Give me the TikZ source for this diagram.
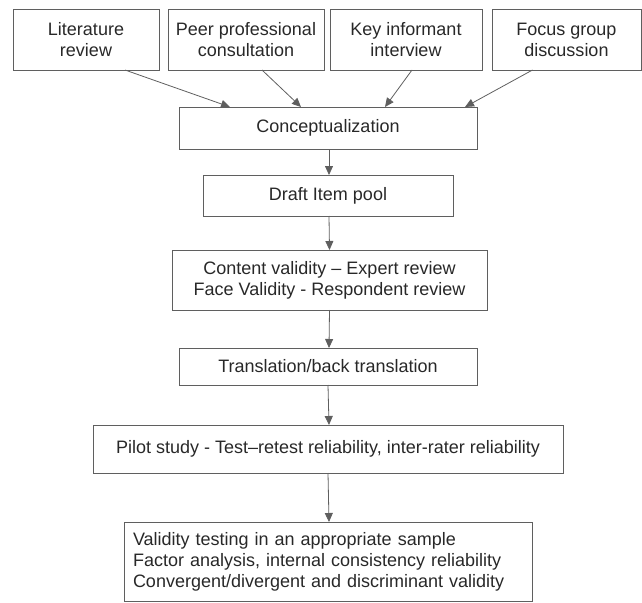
\documentclass[tikz,border=0pt]{standalone}
\usepackage{fontspec}
\setmainfont{Liberation Sans}
\usetikzlibrary{arrows.meta}
\definecolor{linegray}{RGB}{95,95,95}
\definecolor{textgray}{RGB}{40,40,40}
\tikzset{
	stagebox/.style={draw=linegray, line width=0.8pt, inner sep=0pt, outer sep=0pt,
		align=center, text=textgray, font=\fontsize{18}{21}\selectfont},
	flowarrow/.style={draw=linegray, line width=0.8pt, -{Triangle[length=9pt,width=8pt]}}
}
\begin{document}
\begin{tikzpicture}[x=1pt,y=-1pt]
		\useasboundingbox (0,0) rectangle (642,602);
		%Sources at the top
		\node [stagebox, minimum width=146pt, minimum height=61pt] (lit) at (86,39.5) {Literature\\review};
		\node [stagebox, minimum width=156pt, minimum height=61pt] (peer) at (246,39.5) {Peer professional\\consultation};
		\node [stagebox, minimum width=152pt, minimum height=61pt] (key) at (406,39.5) {Key informant\\interview};
		\node [stagebox, minimum width=149pt, minimum height=61pt] (focus) at (566.5,39.5) {Focus group\\discussion};
		%Main steps
		\node [stagebox, minimum width=298pt, minimum height=42pt] (concept) at (328,128) {Conceptualization};
		\node [stagebox, minimum width=250pt, minimum height=41pt] (draft) at (328,195.5) {Draft Item pool};
		\node [stagebox, minimum width=315pt, minimum height=60pt] (content) at (329.5,280) {Content validity -- Expert review\\Face Validity - Respondent review};
		\node [stagebox, minimum width=298pt, minimum height=37pt] (trans) at (328,366.5) {Translation/back translation};
		\node [stagebox, minimum width=470pt, minimum height=48pt] (pilot) at (328,449) {Pilot study - Test--retest reliability, inter-rater reliability};
		\node [stagebox, minimum width=408pt, minimum height=79pt, text width=390pt, align=left] (valid) at (328,561.5) {Validity testing in an appropriate sample\\Factor analysis, internal consistency reliability\\Convergent/divergent and discriminant validity};
		%Arrows into the conceptualization
		\draw [flowarrow] ([xshift=39pt]lit.south) -- ([xshift=-98pt]concept.north);
		\draw [flowarrow] ([xshift=16pt]peer.south) -- ([xshift=-27pt]concept.north);
		\draw [flowarrow] ([xshift=6pt]key.south) -- ([xshift=57pt]concept.north);
		\draw [flowarrow] ([xshift=-34pt]focus.south) -- ([xshift=137pt]concept.north);
		%Arrows down the chain
		\draw [flowarrow] ([xshift=1pt]concept.south) -- ([xshift=1pt]draft.north);
		\draw [flowarrow] ([xshift=1pt]draft.south) -- (content.north);
		\draw [flowarrow] (content.south) -- ([xshift=1pt]trans.north);
		\draw [flowarrow] (trans.south) -- ([xshift=1pt]pilot.north);
		\draw [flowarrow] (pilot.south) -- ([xshift=1pt]valid.north);
\end{tikzpicture}
\end{document}
